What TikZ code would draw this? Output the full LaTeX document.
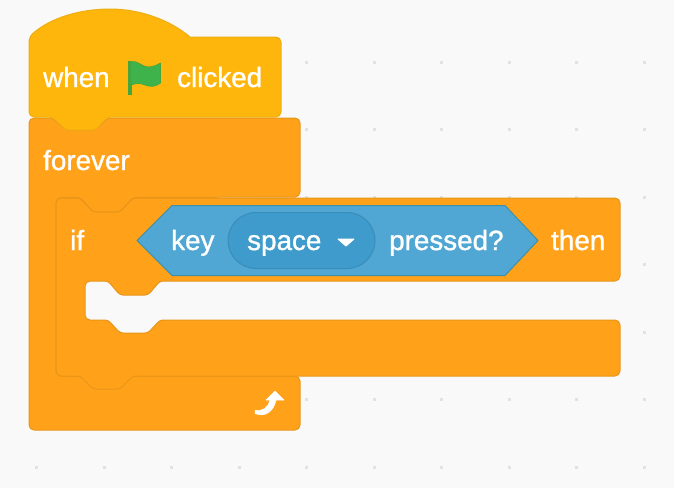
\documentclass[tikz,border=0pt]{standalone}
\usepackage{fontspec}
\setmainfont{Liberation Sans}
\newfontfamily\lblfont{Liberation Sans}[FakeBold=1.1]
\definecolor{bgc}{HTML}{F9F9F9}
\definecolor{hatfill}{HTML}{FFB60C}
\definecolor{hatline}{HTML}{EDAE12}
\definecolor{ctrlfill}{HTML}{FFA219}
\definecolor{ctrlline}{HTML}{E8951A}
\definecolor{sensefill}{HTML}{50A7D3}
\definecolor{senseline}{HTML}{3E8FA8}
\definecolor{pillfill}{HTML}{3E9BCB}
\definecolor{pillline}{HTML}{3A8DBB}
\definecolor{flagfill}{HTML}{3FB34B}
\definecolor{flagline}{HTML}{45A53F}
\definecolor{griddot}{HTML}{E2E2E2}
\tikzset{
  hatblock/.style={fill=hatfill,draw=hatline,line width=1pt,line join=round,rounded corners=3pt},
  ctrlblock/.style={fill=ctrlfill,draw=ctrlline,line width=1pt,line join=round,rounded corners=3pt},
  lbl/.style={text=white,font=\lblfont\fontsize{27.8}{27.8}\selectfont,inner sep=0pt,anchor=base west},
}
\begin{document}
\begin{tikzpicture}[x=1pt,y=-1pt]
\useasboundingbox (0,0) rectangle (674,488);
\fill[bgc] (0,0) rectangle (674,488);
% grid dots
\foreach \gx in {36.5,104,171.5,239,306.5,374,441.7,509.3,576.8,644.5}
  \foreach \gy in {62.3,129.7,197.3,264.8,332.3,399.8,467.3}
    \fill[griddot] (\gx-1.5,\gy-1.5) rectangle (\gx+1.5,\gy+1.5);
% forever block
\path[ctrlblock] (40,118) -- (52,118) -- (66,130) -- (95,130) -- (108,118)
  [rounded corners=5pt] -- (300,118) -- (300,197) [rounded corners=3pt] -- (133,197.5) -- (120,212) -- (93,212) -- (80,197.5)
  [rounded corners=5pt] -- (56,197.5) -- (56,376) -- (300,376) -- (300,430) -- (29,430) -- (29,118) -- cycle;
% if block
\path[ctrlblock] (70,198) -- (80,198) -- (93,212) -- (120,212) -- (133,198)
  [rounded corners=5pt] -- (620,198) -- (620,281) [rounded corners=3pt] -- (160,281) -- (148,295) -- (120,295) -- (108,281)
  [rounded corners=5pt] -- (85,281) -- (85,320) [rounded corners=3pt] -- (108,320) -- (120,333) -- (148,333) -- (160,320)
  [rounded corners=5pt] -- (620,320) -- (620,376) [rounded corners=3pt] -- (133,376) -- (120,389) -- (93,389) -- (80,376)
  [rounded corners=5pt] -- (56,376) -- (56,198) -- cycle;
% hat block
\path[hatblock] (40,117) [rounded corners=5pt] -- (29,117) -- (29,37) [sharp corners] .. controls (50,18) and (80,9) .. (110,9) .. controls (140,9) and (170,20) .. (190,37)
  [rounded corners=5pt] -- (281,37) -- (281,117) [rounded corners=3pt] -- (108,117) -- (95,130) -- (66,130) -- (52,117) -- cycle;
% flag
\fill[flagline] (127.5,60.5) rectangle (132,95);
\path[fill=flagfill,draw=flagline,line width=.7pt,line join=round] (131,62)
  .. controls (138,60) and (142,67) .. (148,67) .. controls (153,67) and (157,65) .. (160.5,63)
  -- (160.5,83) .. controls (155,87) and (150,87) .. (145,85) .. controls (140,83) and (136,83) .. (131,85) -- cycle;
% boolean
\path[fill=sensefill,draw=senseline,line width=1pt,line join=round]
  (172,205.5) -- (505,205.5) -- (538,240.5) -- (505,275.5) -- (172,275.5) -- (137,240.5) -- cycle;
\path[fill=pillfill,draw=pillline,line width=1pt] (256,212.5) -- (347,212.5)
  arc[start angle=-90,end angle=90,radius=28] -- (256,268.5)
  arc[start angle=90,end angle=270,radius=28] -- cycle;
\fill[white,line join=round,draw=white,line width=1pt] (338,239) -- (354,239) -- (346,246) -- cycle;
% texts
\node[lbl] (twhen) at (43,87) {when};
\node[lbl] (tclicked) at (177,87) {clicked};
\node[lbl] (tforever) at (43,170) {forever};
\node[lbl] (tif) at (70,250) {if};
\node[lbl] (tkey) at (171,250) {key};
\node[lbl] (tspace) at (247,250) {space};
\node[lbl] (tpressed) at (389,250) {pressed?};
\node[lbl] (tthen) at (551,250) {then};
% loop arrow
\path[fill=white,draw=white,line width=.5pt,line join=round] (255,410)
  .. controls (262,412) and (268,408) .. (270,400) -- (266,400) -- (275,391) -- (284,400) -- (276,400)
  .. controls (274,411) and (265,418) .. (255,413.5) -- cycle;
\end{tikzpicture}
\end{document}
